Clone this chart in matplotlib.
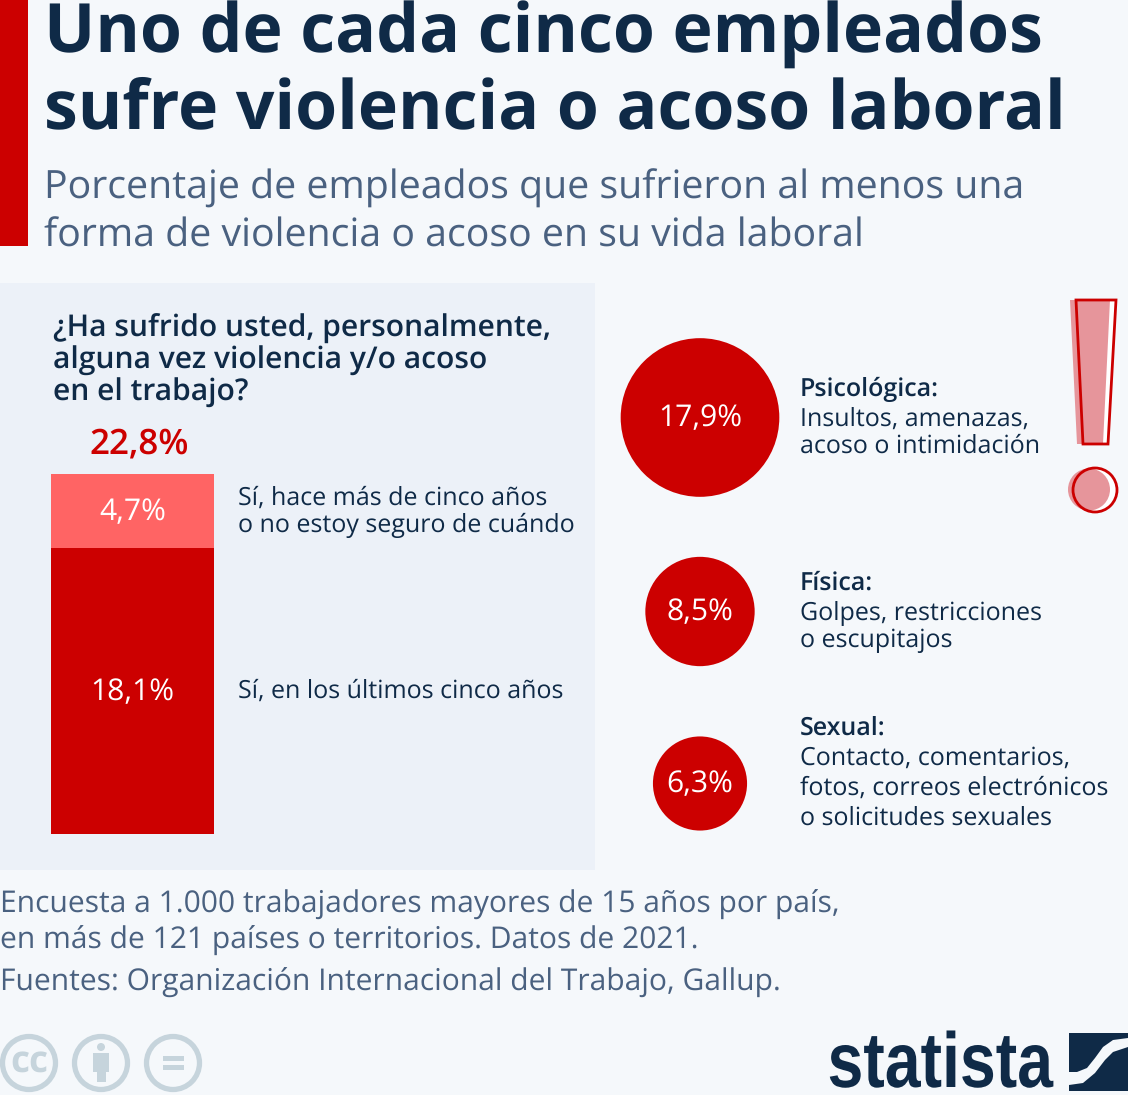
import numpy as np
import matplotlib
matplotlib.use("Agg")
import matplotlib.pyplot as plt
from matplotlib.patches import Rectangle, Circle, Polygon
from matplotlib.patheffects import AbstractPathEffect
from matplotlib.transforms import Affine2D

# datos
title_lines = ["Uno de cada cinco empleados", "sufre violencia o acoso laboral"]
subtitle_lines = ["Porcentaje de empleados que sufrieron al menos una",
                  "forma de violencia o acoso en su vida laboral"]
question_lines = ["¿Ha sufrido usted, personalmente,", "alguna vez violencia y/o acoso", "en el trabajo?"]
total_label = "22,8%"
bar_values = [18.1, 4.7]
bar_labels = ["18,1%", "4,7%"]
bar_notes = [["Sí, en los últimos cinco años"],
             ["Sí, hace más de cinco años", "o no estoy seguro de cuándo"]]
circle_values = [17.9, 8.5, 6.3]
circle_labels = ["17,9%", "8,5%", "6,3%"]
circle_heads = ["Psicológica:", "Física:", "Sexual:"]
circle_notes = [["Insultos, amenazas,", "acoso o intimidación"],
                ["Golpes, restricciones", "o escupitajos"],
                ["Contacto, comentarios,", "fotos, correos electrónicos", "o solicitudes sexuales"]]
foot_lines = ["Encuesta a 1.000 trabajadores mayores de 15 años por país,",
              "en más de 121 países o territorios. Datos de 2021.",
              "Fuentes: Organización Internacional del Trabajo, Gallup."]

W, H = 1128, 1095
BG = "#f5f8fb"
PANEL = "#ecf1f8"
RED = "#cc0000"
LIGHT = "#ff6464"
NAVY = "#0f2a47"
GREY = "#4a6180"
ICON = "#c6d4dc"
PINK = "#e6959b"
plt.rcParams["font.family"] = ["Open Sans", "DejaVu Sans"]
plt.rcParams["text.hinting"] = "none"

fig = plt.figure(figsize=(W / 100, H / 100), dpi=100, facecolor=BG)
ax = fig.add_axes([0, 0, 1, 1])
ax.set_xlim(0, W)
ax.set_ylim(H, 0)
ax.axis("off")


def px(s):
    return s * 0.72


def txt(x, y, s, size, color=NAVY, weight="normal", ha="left", z=5):
    return ax.text(x, y, s, fontsize=px(size), color=color, fontweight=weight, ha=ha, va="baseline", zorder=z)


# el logo usa letra estrecha: se deforma el texto alrededor de su origen
class Squeeze(AbstractPathEffect):
    def __init__(self, x0, y0, sx, sy):
        super().__init__()
        self.x0 = x0
        self.y0 = y0
        self.sx = sx
        self.sy = sy

    def draw_path(self, renderer, gc, tpath, affine, rgbFace=None):
        tr = affine + Affine2D().translate(-self.x0, -self.y0).scale(self.sx, self.sy).translate(self.x0, self.y0)
        renderer.draw_path(gc, tpath, tr, rgbFace)


ax.add_patch(Rectangle((0, 0), 28, 246, color=RED, lw=0))
ax.add_patch(Rectangle((0, 283), 595, 587, color=PANEL, lw=0))

for y, s in zip([52.5, 128.5], title_lines):
    txt(44, y, s, 67.9, weight="bold")
for y, s in zip([199, 247], subtitle_lines):
    txt(44.5, y, s, 39.2, color=GREY)
for y, s in zip([337, 369, 401], question_lines):
    txt(53, y, s, 30, weight="semibold")
txt(139.5, 453, total_label, 35, color=RED, weight="semibold", ha="center")

# barra apilada, escala propia
bar_ax = fig.add_axes([51 / W, 1 - 833.5 / H, 163 / W, 360 / H])
bar_ax.set_xlim(0, 1)
bar_ax.set_ylim(0, sum(bar_values))
bar_ax.axis("off")
bottoms = np.cumsum([0] + bar_values[:-1])
for v, b, c, lab in zip(bar_values, bottoms, [RED, LIGHT], bar_labels):
    bar_ax.bar(0.5, v, 1, bottom=b, color=c, lw=0)
    bar_ax.text(0.5, b + v / 2 - 0.1, lab, color="white", fontsize=px(30), ha="center", va="center")

for y, s in zip([697.5], bar_notes[0]):
    txt(237.5, y, s, 25)
for y, s in zip([504.5, 531.5], bar_notes[1]):
    txt(237.5, y, s, 25)

# circulos: area proporcional al valor
centers = [(700, 417.5), (700, 611.5), (700, 783.5)]
for (cx, cy), v, lab in zip(centers, circle_values, circle_labels):
    ax.add_patch(Circle((cx, cy), 18.75 * np.sqrt(v), color=RED, lw=0))
    ax.text(cx, cy + 0.5, lab, color="white", fontsize=px(30), ha="center", va="center", zorder=5)

txt(799.5, 396, circle_heads[0], 25, weight="semibold")
for y, s in zip([426, 453], circle_notes[0]):
    txt(799.5, y, s, 25)
txt(799.5, 590, circle_heads[1], 25, weight="semibold")
for y, s in zip([619.5, 647], circle_notes[1]):
    txt(799.5, y, s, 25)
txt(799.5, 735, circle_heads[2], 25, weight="semibold")
for y, s in zip([765, 795, 825], circle_notes[2]):
    txt(799.5, y, s, 25)

# signo de exclamacion
ax.add_patch(Polygon([(1076, 300), (1116, 300), (1108, 444), (1083, 444)], closed=True, fc="white", lw=0))
ax.add_patch(Polygon([(1070, 300), (1110, 300), (1103, 444), (1077, 444)], closed=True, fc=PINK, lw=0))
ax.add_patch(Polygon([(1076, 300), (1116, 300), (1108, 444), (1083, 444)], closed=True, fc="none", ec=RED, lw=2))
ax.add_patch(Circle((1095, 490), 22, fc="white", lw=0))
ax.add_patch(Circle((1089, 489.5), 21, fc=PINK, lw=0))
ax.add_patch(Circle((1095, 490), 22, fc="none", ec=RED, lw=2))

for y, s in zip([913, 949, 991], foot_lines):
    txt(0, y, s, 30, color=GREY)

# iconos cc
for cx in [29, 101, 173]:
    ax.add_patch(Circle((cx, 1063), 26.5, fc="none", ec=ICON, lw=3.8))
ax.text(29, 1062, "cc", color=ICON, fontsize=px(37), fontweight="bold", ha="center", va="center")
ax.add_patch(Circle((101, 1047), 4, color=ICON, lw=0))
ax.add_patch(Polygon([(93, 1053), (109, 1053), (109, 1072), (106, 1072), (106, 1082), (97, 1082), (97, 1072), (93, 1072)],
                     closed=True, color=ICON, lw=0))
ax.add_patch(Rectangle((163, 1056), 21, 5, color=ICON, lw=0))
ax.add_patch(Rectangle((163, 1065), 21, 5, color=ICON, lw=0))

# logo
logo = ax.text(827.5, 1087, "statista", color=NAVY, fontsize=px(40), fontweight="bold", ha="left", va="baseline",
               family=["Liberation Sans", "DejaVu Sans"])
fig.canvas.draw()
x0, y0 = ax.transData.transform((827.5, 1087))
logo.set_path_effects([Squeeze(x0, y0, 1.61, 1.95)])
xs = [1069, 1128, 1128, 1113, 1103, 1095, 1087, 1077, 1069]
ys = [1033, 1033, 1038, 1040, 1047, 1058, 1068, 1072, 1072]
ax.add_patch(Polygon(np.c_[xs, ys], closed=True, color=NAVY, lw=0))
xs2 = [1128, 1128, 1069, 1069, 1083, 1095, 1105, 1113]
ys2 = [1047, 1091, 1091, 1085, 1083, 1073, 1060, 1052]
ax.add_patch(Polygon(np.c_[xs2, ys2], closed=True, color=NAVY, lw=0))

fig.savefig("out.png", dpi=100, facecolor=BG)
